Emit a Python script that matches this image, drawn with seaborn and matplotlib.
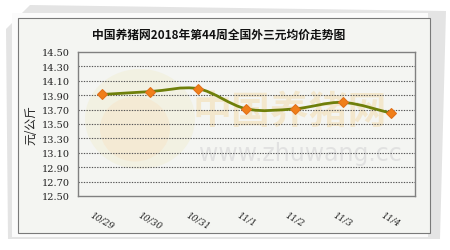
import numpy as np
import pandas as pd
import seaborn as sns
import matplotlib
matplotlib.use("Agg")
import matplotlib.pyplot as plt
from matplotlib.path import Path
from matplotlib.patches import PathPatch, Rectangle, Polygon, Ellipse

# ---- data ----
dates = ["10/29", "10/30", "10/31", "11/1", "11/2", "11/3", "11/4"]
prices = [13.91, 13.95, 13.99, 13.71, 13.71, 13.80, 13.65]
y_ticks = [12.50, 12.70, 12.90, 13.10, 13.30, 13.50, 13.70, 13.90, 14.10, 14.30, 14.50]
title = "中国养猪网2018年第44周全国外三元均价走势图"
ylabel = "元/公斤"

sns.set_theme(style="white")
plt.rcParams['font.family'] = ['Noto Sans CJK SC', 'DejaVu Sans']

W, H = 450, 251
fig = plt.figure(figsize=(W / 100, H / 100), dpi=100)
fig.patch.set_facecolor("white")

def fx(px):
    return px / W

def fy(py):
    return 1 - py / H

# paper shadow
fig.patches.append(Polygon([(fx(8), fy(240)), (fx(440), fy(240)), (fx(446), fy(12)),
                            (fx(30), fy(6)), (fx(6), fy(30))],
                           closed=True, transform=fig.transFigure,
                           facecolor="#e4e4e4", edgecolor="none", zorder=0))
fig.patches.append(Rectangle((fx(12), fy(238)), fx(428) - fx(12), fy(14) - fy(238),
                             transform=fig.transFigure, facecolor="#fbfbfb",
                             edgecolor="none", zorder=0.5))
# chart area
fig.patches.append(Rectangle((fx(18), fy(234)), fx(430) - fx(18), fy(19) - fy(234),
                             transform=fig.transFigure, facecolor="#f4f5f2",
                             edgecolor="#7a7a7a", linewidth=0.8, zorder=1))

ax = fig.add_axes([fx(77.7), fy(197), fx(415) - fx(77.7), fy(53) - fy(197)])
ax.set_zorder(2)
ax.set_facecolor("#f8f8f7")

df = pd.DataFrame({"x": np.arange(len(dates)), "price": prices})

# smoothed (Excel-like) line through the data points via Bezier path
xs = df["x"].to_numpy(dtype=float)
ys = df["price"].to_numpy(dtype=float)
verts = [(xs[0], ys[0])]
codes = [Path.MOVETO]
n = len(xs)
for i in range(n - 1):
    p0 = np.array([xs[max(i - 1, 0)], ys[max(i - 1, 0)]])
    p1 = np.array([xs[i], ys[i]])
    p2 = np.array([xs[i + 1], ys[i + 1]])
    p3 = np.array([xs[min(i + 2, n - 1)], ys[min(i + 2, n - 1)]])
    c1 = p1 + (p2 - p0) / 6
    c2 = p2 - (p3 - p1) / 6
    verts += [tuple(c1), tuple(c2), tuple(p2)]
    codes += [Path.CURVE4] * 3
ax.add_patch(PathPatch(Path(verts, codes), facecolor="none", edgecolor="#6f7f0a",
                       linewidth=2.0, zorder=3))

sns.lineplot(data=df, x="x", y="price", ax=ax, linestyle="none", marker="D",
             markersize=5.5, markerfacecolor="#f07f1a", markeredgecolor="#e0701a",
             zorder=4)

ax.set_xlim(-0.5, len(dates) - 0.5)
ax.set_ylim(y_ticks[0], y_ticks[-1])

ax.set_yticks(y_ticks)
ax.set_yticklabels([f"{v:.2f}" for v in y_ticks], fontsize=7, color="#222222",
                   family=['DejaVu Serif'])
ax.tick_params(axis="y", length=0, pad=6)

ax.set_xticks(np.arange(len(dates)))
ax.set_xticklabels(dates, rotation=-30, fontsize=6.5, color="#222222",
                   ha="center", va="top", family=['DejaVu Serif'], style="italic")
ax.tick_params(axis="x", which="major", length=0, pad=10)
ax.set_xticks(np.arange(0.5, len(dates) - 1, 1), minor=True)
ax.tick_params(axis="x", which="minor", direction="in", length=4, color="#666666", width=0.8)

for v in y_ticks[1:-1]:
    ax.axhline(v, color="#555555", linewidth=0.8, linestyle=(0, (1.2, 1.2)), zorder=1)

for s in ax.spines.values():
    s.set_visible(True)
    s.set_color("#808080")
    s.set_linewidth(1.0)

ax.set_xlabel("")
ax.set_ylabel(ylabel, fontsize=8.5, color="#222222", labelpad=3)

# watermark: faint round logo and site text
fig.patches.append(Ellipse((fx(140), fy(120)), fx(110) - fx(0), fy(0) - fy(100),
                           transform=fig.transFigure, facecolor="#f1efd8",
                           edgecolor="none", alpha=0.6, zorder=1.5))
fig.patches.append(Ellipse((fx(135), fy(130)), fx(70) - fx(0), fy(0) - fy(65),
                           transform=fig.transFigure, facecolor="#f6e6cc",
                           edgecolor="none", alpha=0.6, zorder=1.6))
ax.patch.set_alpha(0.0)
ax.text(0.63, 0.59, "中国养猪网", transform=ax.transAxes, fontsize=28, color="#f3dcae",
        alpha=0.55, ha="center", va="center", weight="bold", zorder=0.5)
ax.text(0.66, 0.30, "www.zhuwang.cc", transform=ax.transAxes, fontsize=17, color="#dddddd",
        alpha=0.8, ha="center", va="center", zorder=0.5, family=['DejaVu Sans'])

fig.text(fx(219), fy(35), title, fontsize=8.5, weight="bold", color="#111111",
         ha="center", va="center", zorder=5)

fig.savefig("out.png", dpi=100, facecolor=fig.get_facecolor())
